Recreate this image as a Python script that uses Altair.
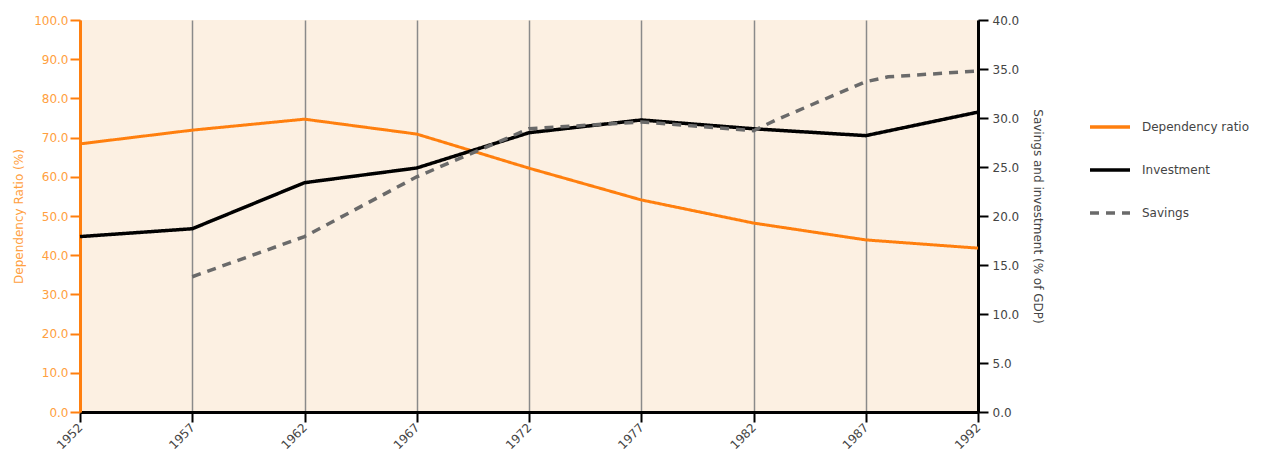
import altair as alt
import pandas as pd

years = [1952, 1957, 1962, 1967, 1972, 1977, 1982, 1987, 1992]
dependency = [68.4, 71.9, 74.7, 70.9, 62.2, 54.1, 48.2, 43.9, 41.8]
investment = [17.9, 18.7, 23.4, 24.9, 28.5, 29.8, 28.9, 28.2, 30.6]
sav_years = [1957, 1962, 1967, 1972, 1977, 1982, 1983, 1987, 1988, 1992]
savings = [13.8, 17.9, 24.0, 28.9, 29.6, 28.7, 29.8, 33.7, 34.2, 34.8]

series = ["Dependency ratio", "Investment", "Savings"]
colors = ["#ff7f0e", "#000000", "#6a6a6a"]
dashes = [[1, 0], [1, 0], [9, 7]]

dep_df = pd.DataFrame({"year": years, "value": dependency, "series": series[0]})
rt_df = pd.concat([
    pd.DataFrame({"year": years, "value": investment, "series": series[1]}),
    pd.DataFrame({"year": sav_years, "value": savings, "series": series[2]}),
])

FONT = "DejaVu Sans"
ORANGE = "#ff7f0e"
FS = 12

x = alt.X("year:Q", scale=alt.Scale(domain=[1952, 1992], nice=False, zero=False),
          axis=alt.Axis(values=years, format="d", title=None, labelAngle=-45,
                        labelAlign="right", labelBaseline="middle", labelFontSize=FS,
                        labelColor="#444", grid=True, gridColor="#8a8a8a", gridWidth=1.5,
                        domainColor="black", domainWidth=3, tickColor="black",
                        tickWidth=2, tickSize=10, labelPadding=3))

color = alt.Color("series:N", scale=alt.Scale(domain=series, range=colors),
                  legend=alt.Legend(title=None, orient="none", legendX=1008, legendY=85,
                                    symbolType="stroke", symbolSize=1600,
                                    symbolStrokeWidth=3.5, labelFontSize=FS,
                                    labelColor="#444", labelOffset=10, rowPadding=14,
                                    labelFont=FONT))
dash = alt.StrokeDash("series:N", scale=alt.Scale(domain=series, range=dashes), legend=None)

left = alt.Chart(dep_df).mark_line(strokeWidth=3).encode(
    x=x,
    y=alt.Y("value:Q", scale=alt.Scale(domain=[0, 100]),
            axis=alt.Axis(title="Dependency Ratio (%)", titleColor="#ffa040",
                          titleFontWeight="normal", titleFontSize=FS, format=".1f",
                          values=list(range(0, 101, 10)), labelColor="#ffa040",
                          labelFontSize=FS, domainColor=ORANGE, domainWidth=3,
                          tickColor=ORANGE, tickWidth=2, tickSize=10, labelPadding=2,
                          grid=False, titlePadding=8)),
    color=color,
    strokeDash=dash,
)

right = alt.Chart(rt_df).mark_line(strokeWidth=3.5).encode(
    x=x,
    y=alt.Y("value:Q", scale=alt.Scale(domain=[0, 40]),
            axis=alt.Axis(orient="right", title="Savings and investment (% of GDP)",
                          titleColor="#444", titleFontWeight="normal", titleFontSize=FS,
                          format=".1f", values=[0, 5, 10, 15, 20, 25, 30, 35, 40],
                          labelColor="#444", labelFontSize=FS, domainColor="black",
                          domainWidth=3, tickColor="black", tickWidth=2, tickSize=10,
                          labelPadding=4, grid=False, titlePadding=12)),
    color=color,
    strokeDash=dash,
)

chart = alt.layer(left, right).resolve_scale(y="independent").properties(
    width=898, height=392,
    autosize=alt.AutoSizeParams(type="none"),
    padding={"left": 72, "top": 12, "right": 283, "bottom": 40},
).configure(font=FONT, background="white",
            view=alt.ViewConfig(fill="#fcf0e2", stroke=None))

chart.save("out.html", embed_options={"renderer": "svg", "actions": False})
